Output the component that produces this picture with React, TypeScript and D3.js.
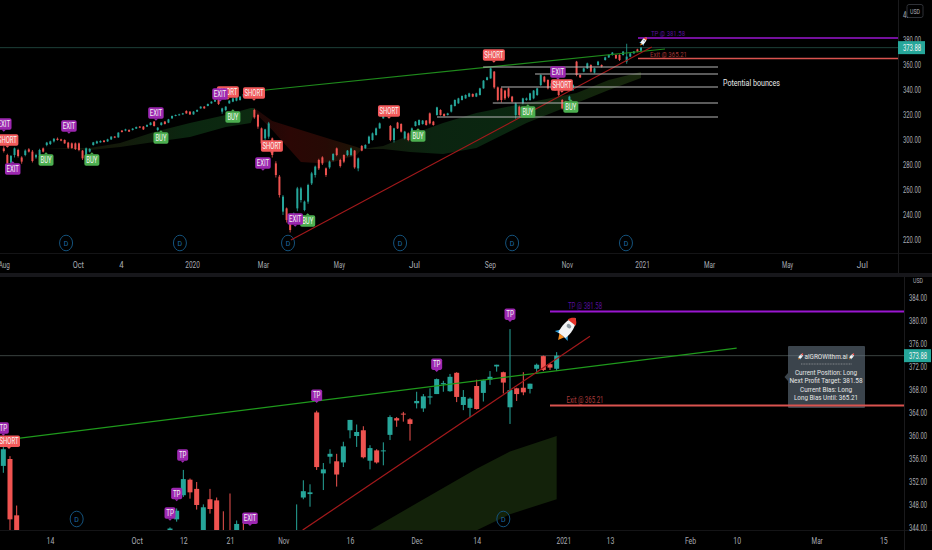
import * as React from "react";
import * as d3 from "d3";

// daily candles of the upper pane, every second session: open, high, low, close
const topCandles = [
  [293.3,295,290,291.2],[288,289,279,281.3],[281.9,288,280,287.2],[288,294,286,293.3],[292,293,286,287.2],[286,287,281,282.7],[288,292.5,287,291.5],[292.5,293.5,290,290.7],[290.7,292,282,283.2],[286.1,289,285,288],
  [288,293,287,292],[293.3,294,290,290.7],[296,298.5,295,297.9],[296.8,299.5,296,298.9],[298.9,301.5,298,301],[301,302,299.5,300],[300.5,301,299,299.5],[300,300.5,297,297.3],[297.9,298.5,293,293.9],[297.3,298,293,293.6],
  [297.3,298,292,292.8],[297.3,298,291,292],[291.5,292,284,285.3],[288,294,287,293.3],[290.7,293.5,290,292.8],[296,298.5,295.5,298.1],[297.3,299.5,297,298.9],[298.1,299.8,297.8,299.2],[299.5,300,298,298.4],[298.9,301,298.5,300.5],
  [300.5,303,300,302.7],[302.7,303.2,301.5,301.9],[302.1,306.2,301.8,305.9],[307.5,308,306,306.4],[307.5,309,307,308.5],[308,308.6,306.4,306.7],[308,309.5,307.6,309.1],[309.1,310.8,308.8,310.4],[310.7,311.2,309.5,309.9],[310.7,311.2,308,308.5],
  [310.7,312.5,310.4,312],[312,314.3,311.7,313.9],[314.7,315.2,310.8,311.2],[308,310.3,307,309.9],[312,314.3,311.5,313.9],[314.7,315.2,312.4,312.8],[313.9,316.9,313.5,316.5],[317.3,319.6,317,319.2],[319.2,320.4,319,320],[320,321,319.7,320.5],
  [320.5,321.7,320.2,321.3],[323.2,323.8,321,321.3],[322.7,323,320,320.5],[320.5,323.1,320.2,322.7],[322.7,324.5,322.4,324],[325.3,327,325,326.7],[326.7,327.2,325,325.3],[327.2,329.2,327,328.8],[329.3,331,329,330.7],[330.7,332.4,330.4,332],
  [332,332.6,328,328.8],[322.7,325.8,321,325.3],[324,327,323,326.7],[329.3,331.8,329,331.5],[330.7,333.7,330.3,333.3],[331.5,334.5,331,334.1],[332,335,331.5,334.7],[334.7,337.2,334.4,336.8],[336.8,339,336.5,338.7],[338.7,339.2,336.5,337],
  [324,325,317,318.1],[320,321,309,310.7],[309.3,310,295,297.3],[301.3,309,300,308.5],[302.7,314.5,301,313.3],[301.3,302,286,288],[281.3,283,270,272],[270.7,272,254,256],[242.7,256,240,254.7],[245.3,246,234,236],
  [236,237,226,228],[240,242,236,241.3],[245.3,262.5,243,261.3],[252,262.5,250,261.3],[244,251.5,243,250.7],[250.7,265,249,264],[265.3,274.5,264,273.3],[272,279.5,270,278.7],[284,285,276,277.3],[286.1,287,280,281.3],
  [277.3,278,270.5,272],[278.1,283.5,277,282.7],[284,289.5,283,288.8],[293.3,294,287,288],[284,285,278,279.2],[288,288.5,281.5,282.7],[288,292,287,291.5],[288,294,287,293.3],[291.5,292,277,278.1],[277.3,286,275,285.3],
  [295.2,296,291,291.5],[293.3,296.6,293,296],[297.3,303.5,296.8,302.7],[300,306,299.5,305.3],[304,310,303.5,309.3],[309.3,314,309,313.3],[317.3,320.5,317,320],[319.2,321.5,318.8,320.8],[311.2,312,299,300],[300,309.8,298,309.3],
  [313.9,314.5,308.8,309.3],[312.8,313.4,306,306.7],[301.3,307.3,300.5,306.7],[305.3,306,299,300],[306.7,310,306.2,309.3],[311.2,315.2,310.8,314.7],[312,316.5,311.5,316],[312.8,316,312.3,315.5],[315.5,316,311.5,312],[321.3,322,312.5,313.3],
  [314.7,315.3,311.5,312],[320,326.6,319.5,326.1],[324,324.6,319.5,320],[320.8,321.4,318.8,319.2],[320,321.8,319.6,321.3],[322.7,328.5,322,328],[327.2,332.5,326.8,332],[329.3,333.8,329,333.3],[332,335.7,331.6,335.2],[333.3,336.5,333,336],
  [334.7,337.8,334.3,337.3],[336.8,337.3,334.3,334.7],[334.7,337.8,334.3,337.3],[336,341.8,335.6,341.3],[341.3,348,341,347.5],[348,350.6,347.6,350.1],[349.3,358,349,357.3],[354.7,355.2,341,342.1],[342.1,342.8,331,332],[341.3,342,330,332],
  [339.5,340.2,332,333.3],[341.3,342,333.5,334.7],[334.7,335.3,330,330.7],[320,330,317,329.3],[326.7,327.5,318.5,320],[329.3,333.8,328.6,333.3],[332,334,331.4,333.3],[332,337.8,331.4,337.3],[333.3,340,332.6,339.5],[336,341.8,335.3,341.3],
  [344,352.6,343.2,352],[350.7,351.3,346,346.7],[348,348.6,340.5,341.3],[341.3,345.9,340.6,345.3],[344,344.6,339.2,340],[346.7,347.4,335,336],[332,332.8,324.5,325.3],[330.7,331.4,324.5,325.3],[332,335.4,331.4,334.7],[340,344.7,339.2,344],
  [362.7,363.3,351,352],[352,352.6,349.6,350.1],[354.7,357.8,354.2,357.3],[357.3,361.9,356.8,361.3],[360,360.6,354,354.7],[353.9,357.8,353.2,357.3],[360,363.3,359.5,362.7],[360,360.5,358,358.7],[364,366.6,363.5,366.1],[366.1,368.5,365.6,368],
  [368,370.4,367.5,369.9],[368,368.5,364.8,365.3],[368,368.6,363.2,364],[368,371.2,367.5,370.7],[362.7,377,361,366.7],[366.7,369.8,366.2,369.3],[369.3,371.2,369,370.7],[372.5,373,370.2,370.7],[371.5,374.5,371,373.9],
];

// bottom pane, zoomed on the last sessions: bar number, open, high, low, close
const bottomCandles = [
  [0,354.7,358.6,353.5,357.6],[1,355.9,356.4,342,345.4],[2,346.1,347.8,338,340],
  [25,340,344,338,343.8],[26,345.4,347.3,345,346.9],[27,349.6,354,349.3,352.4],[28,352.3,352.5,349,350.1],[29,350.7,351.9,347.1,347.9],[30,340,348,338,347.5],[31,348.9,350.7,346.4,347.2],[32,348.7,349.2,340,342],[33,343,346.8,339,341],[34,343,349.9,338,340],[35,341,345.2,340,344.6],[36,343.5,345,340,341],
  [44,340,348,339,343],[45,349.2,352.2,348.9,350.3],[46,349.8,351.5,347.6,350.1],[47,364,364.3,354,354.5],[48,353.4,355.2,350.5,354.1],[49,356.3,357.6,355.1,356.8],[50,355.5,356.8,351.1,353.2],[51,355.3,358.9,354.5,358.1],[52,360.9,362.7,359.5,362.7],[53,359.9,361.9,358,360.6],
  [54,360.9,361.6,356,356.2],[55,355.6,358.3,354.1,357.8],[56,357.4,357.6,355.1,355.3],[57,357.3,358.8,354.8,357.4],[58,360.1,363.5,359.2,363.2],[59,363,363.2,361.5,362.6],[60,363.8,364.1,362.4,363.7],[61,362.8,363,359.1,362],[62,365.6,367.6,364.7,366],[63,364.7,367.2,364.1,366.8],
  [64,366.6,368.2,365.4,366.8],[65,367.2,369.9,367.2,369.8],[66,368.9,369.5,367.6,369.1],[67,367.7,370.7,367.6,370.2],[68,370.9,371,365.8,366.7],[69,365.3,367.9,364.4,366.7],[70,364.8,366.6,363.2,366.4],[71,368.6,369.7,364.5,364.6],[72,367.4,369.7,365.9,369.6],[73,369.7,371.2,368.8,370.2],
  [74,372,372.3,371.1,372.3],[75,371,371.1,367.3,369.2],[76,364.9,378.5,362,367.9],[77,368.2,368.3,366,367.2],[78,368.3,371,367,367.5],[79,368.1,369,367.3,369],[80,371.6,372.5,370.8,372.3],[81,373.8,373.9,371.2,371.4],[82,372.4,372.6,371.4,371.8],[83,371.6,374.5,371.2,373.88],
];

const lastClose = 373.88;
const profitTarget = 381.58;
const exitLevel = 365.21;

const topPriceTicks = [220, 240, 260, 280, 300, 320, 340, 360, 380, 400];
const bottomPriceTicks = [344, 348, 352, 356, 360, 364, 368, 372, 376, 380, 384];

const topTimeBars = [0, 20.7, 32.7, 52.6, 72.4, 93.6, 114.6, 135.8, 157.3, 178.3, 197, 218.8, 239.7];
const topTimeLabels = ["Aug", "Oct", "4", "2020", "Mar", "May", "Jul", "Sep", "Nov", "2021", "Mar", "May", "Jul"];
const bottomTimeBars = [7, 20, 27, 34, 42, 52, 62, 71, 84, 91, 103, 110, 122, 132];
const bottomTimeLabels = ["14", "Oct", "12", "21", "Nov", "16", "Dec", "14", "2021", "13", "Feb", "10", "Mar", "15"];

// signal labels: text, bar, price, pointer direction (1 = points down at the bar)
const topTags: [string, number, number, number][] = [
  ["EXIT", 0, 312.8, 1], ["SHORT", 1, 300, 1], ["EXIT", 2.5, 276.8, -1], ["BUY", 11.8, 284, -1], ["EXIT", 18.2, 311.2, 1],
  ["BUY", 24.6, 284, -1], ["EXIT", 42.5, 321.6, 1], ["BUY", 43.9, 301.6, -1], ["SHORT", 62.6, 338.4, 1], ["EXIT", 60.4, 336.8, 1],
  ["BUY", 64, 318.4, -1], ["SHORT", 69.9, 337.6, 1], ["SHORT", 74.9, 295.2, 1], ["EXIT", 72.4, 281.6, 1], ["BUY", 84.9, 235.2, -1],
  ["EXIT", 81.4, 236.8, 1], ["SHORT", 107.6, 323.2, 1], ["BUY", 115.7, 303.2, -1], ["SHORT", 136.9, 368, 1], ["BUY", 146.4, 322.4, -1],
  ["EXIT", 154.8, 354.4, 1], ["SHORT", 155.9, 344, 1], ["BUY", 158.4, 326.4, -1],
];
const bottomTags: [string, number, number, number][] = [
  ["TP", 0, 361.3, 1], ["SHORT", 0.85, 359, 1], ["TP", 26.9, 356.6, 1], ["TP", 26, 349.9, 1], ["TP", 25, 346.5, 1],
  ["EXIT", 37, 345.6, 1], ["TP", 47, 367, 1], ["TP", 65, 372.4, 1], ["TP", 76, 381.1, 1],
];

// the "D" dividend marks
const topDividendBars = [17.4, 49.2, 79.4, 110.7, 142, 173.8];
const bottomDividendBars = [11, 75];

// trend lines: bar, price
const topGreenLine = [[70.5, 339.2], [184.7, 372.8]];
const topRedLine = [[80.2, 220], [181, 374.4]];
const bottomGreenLine = [[-0.5, 359.08], [110, 375.18]];
const bottomRedLine = [[44.9, 343.53], [88, 377.27]];

// support levels: first bar, price
const bounceBars = [133.9, 148.4, 138.9, 136.6, 121];
const bouncePrices = [358.4, 352.8, 342.4, 329.6, 318.4];

// cloud bands: bar, upper, lower
const topCloudGreenA = [[11.5, 293.6, 293.6], [24, 293.6, 292], [32.5, 297.6, 294.4], [42, 306.4, 298.4], [52, 313.6, 302.4], [62, 320, 310.4], [69, 325.6, 313.6], [70, 325.6, 322.4]];
const topCloudRed = [[70, 325.6, 322.4], [75, 315.2, 308], [83, 308, 282.4], [87.5, 304, 281.6], [92, 300, 282.4], [98.6, 294.4, 288], [100, 292.8, 292.8]];
const topCloudGreenB = [[100, 292.8, 292.8], [106, 295.2, 292.8], [113.5, 304, 290.4], [122.7, 313.6, 288.8], [132, 321.6, 293.6], [146, 329.6, 313.6], [160, 337.6, 329.6], [169, 348, 340], [178, 354.4, 349.6]];
const bottomCloud = [[55, 343.5, 333], [62, 348.2, 338], [71, 354.2, 343.5], [76, 357.2, 346.3], [83, 359.9, 348.9]];

const tooltipLines = ["Current Position: Long", "Next Profit Target: 381.58", "Current Bias: Long", "Long Bias Until: 365.21"];
const tooltipWidths = [62, 73, 52, 64];

const WIDTH = 932;
const HEIGHT = 550;
const font = "Roboto, 'Liberation Sans', sans-serif";
const UP = "#26a69a";
const DOWN = "#ef5350";
const TAG_COLORS = { SHORT: "#f2595a", EXIT: "#9c27b0", BUY: "#4caf50", TP: "#9c27b0" };
const TAG_WIDTHS = { SHORT: 22, EXIT: 15.5, BUY: 15, TP: 11 };
const TAG_TEXT_WIDTHS = { SHORT: 19, EXIT: 12.5, BUY: 11, TP: 7.5 };

const fit = (sel, w) => sel.attr("textLength", w).attr("lengthAdjust", "spacingAndGlyphs");

const drawCandles = (g, rows, x, y, bodyWidth, wickWidth) => {
  const sel = g.append("g").selectAll("g").data(rows).enter().append("g")
    .attr("fill", (d) => d.c >= d.o ? UP : DOWN)
    .attr("stroke", (d) => d.c >= d.o ? UP : DOWN);
  sel.append("line")
    .attr("x1", (d) => x(d.i)).attr("x2", (d) => x(d.i))
    .attr("y1", (d) => y(d.h)).attr("y2", (d) => y(d.l))
    .attr("stroke-width", wickWidth);
  sel.append("rect")
    .attr("x", (d) => x(d.i) - bodyWidth / 2)
    .attr("width", bodyWidth)
    .attr("y", (d) => y(Math.max(d.o, d.c)))
    .attr("height", (d) => Math.max(1, Math.abs(y(d.o) - y(d.c))))
    .attr("stroke", "none");
};

const drawCloud = (g, rows, x, y, fill) => {
  const area = d3.area()
    .x((d: any) => x(d[0]))
    .y0((d: any) => y(d[2]))
    .y1((d: any) => y(d[1]));
  g.append("path").datum(rows).attr("fill", fill).attr("d", area);
};

const addFade = (defs, id, stops) => {
  const grad = defs.append("linearGradient").attr("id", id);
  stops.forEach((s, i) => grad.append("stop").attr("offset", i / (stops.length - 1)).attr("stop-color", s));
};

const drawTrend = (g, pts, x, y, color, width) => {
  const line = d3.line().x((d: any) => x(d[0])).y((d: any) => y(d[1]));
  g.append("path").datum(pts).attr("fill", "none").attr("stroke", color).attr("stroke-width", width).attr("d", line);
};

const drawTags = (g, rows, x, y) => {
  rows.forEach(([label, bar, price, dir]) => {
    const cx = x(bar), cy = y(price), w = TAG_WIDTHS[label], h = 11.5;
    const tag = g.append("g").attr("transform", "translate(" + cx + "," + cy + ")");
    tag.append("rect").attr("x", -w / 2).attr("y", -h / 2).attr("width", w).attr("height", h).attr("rx", 1.8).attr("fill", TAG_COLORS[label]);
    tag.append("path").attr("d", "M-2," + dir * (h / 2) + "L2," + dir * (h / 2) + "L0," + dir * (h / 2 + 2) + "Z").attr("fill", TAG_COLORS[label]);
    const t = tag.append("text").attr("text-anchor", "middle").attr("y", 3.1).attr("font-size", 8.5).attr("fill", "#f4f4f4")
      .attr("font-family", font).text(label);
    fit(t, TAG_TEXT_WIDTHS[label]);
  });
};

const drawDividends = (g, bars, x, cy) => {
  bars.forEach((bar) => {
    g.append("ellipse").attr("cx", x(bar)).attr("cy", cy).attr("rx", 6.5).attr("ry", 7.8).attr("fill", "none").attr("stroke", "#14527c").attr("stroke-width", 1);
    g.append("text").attr("x", x(bar)).attr("y", cy + 2.6).attr("text-anchor", "middle").attr("font-size", 7).attr("fill", "#1e6ea6").attr("font-family", font).text("D");
  });
};

const drawRocket = (g, cx, cy, scale) => {
  const r = g.append("g").attr("transform", "translate(" + cx + "," + cy + ") rotate(38) scale(" + scale * 1.25 + "," + scale + ")");
  r.append("path").attr("d", "M-3.5,6 L-6.5,11 L-2,10 Z").attr("fill", "#2f9fd8");
  r.append("path").attr("d", "M3.5,6 L6.5,11 L2,10 Z").attr("fill", "#2f9fd8");
  r.append("path").attr("d", "M-2.5,10 L2.5,10 L0,16 Z").attr("fill", "#f58a1f");
  r.append("path").attr("d", "M0,-12 C5,-7 5,4 3.5,10 L-3.5,10 C-5,4 -5,-7 0,-12 Z").attr("fill", "#f2f4f6");
  r.append("path").attr("d", "M0,-12 C2.5,-10 3.6,-8 4,-6 L-4,-6 C-3.6,-8 -2.5,-10 0,-12 Z").attr("fill", "#e5332a");
  r.append("circle").attr("cy", -1.5).attr("r", 2).attr("fill", "#8d9aa3");
};

const styleAxis = (sel, size) => {
  sel.select(".domain").remove();
  sel.selectAll("text").attr("fill", "#a9acb3").attr("font-size", size).attr("font-family", font)
    .attr("lengthAdjust", "spacingAndGlyphs")
    .attr("textLength", function () { return d3.select(this).text().replace(".", "").length * 3.4 + 1; });
};

export default function App() {
  const node = React.useRef(null);

  React.useEffect(() => {
    const svg = d3.select(node.current);
    svg.selectAll("*").remove();

    const toRow = (r, i) => ({ i, o: r[0], h: r[1], l: r[2], c: r[3] });
    const topRows = topCandles.map(toRow);
    const bottomRows = bottomCandles.map((r) => ({ i: r[0], o: r[1], h: r[2], l: r[3], c: r[4] }));

    const topX = d3.scaleLinear().domain([0, 178]).range([3.78, 641]);
    const topY = d3.scaleLinear().domain([220, 380]).range([240, 40]);
    const botX = d3.scaleLinear().domain([0, 83]).range([3.33, 556.67]);
    const botY = d3.scaleLinear().domain([344, 384]).range([527.4, 297.5]);

    const defs = svg.append("defs");
    defs.append("clipPath").attr("id", "top-clip").append("rect").attr("width", 898).attr("height", 253);
    defs.append("clipPath").attr("id", "bot-clip").append("rect").attr("y", 278).attr("width", 904).attr("height", 252);
    addFade(defs, "fade-a", ["#0d1005", "#14190a", "#0b2610", "#0c2a10"]);
    addFade(defs, "fade-red", ["#1c0806", "#2b0705", "#260a05", "#1c1606"]);
    addFade(defs, "fade-b", ["#14180a", "#0b2410", "#0a2610", "#10240c", "#18260c"]);

    // pane frames
    svg.append("rect").attr("width", WIDTH).attr("height", HEIGHT).attr("fill", "#000");
    svg.append("rect").attr("y", 273).attr("width", WIDTH).attr("height", 4).attr("fill", "#17171b");
    svg.append("line").attr("x1", 0).attr("x2", WIDTH).attr("y1", 253.5).attr("y2", 253.5).attr("stroke", "#141416");
    svg.append("line").attr("x1", 0).attr("x2", WIDTH).attr("y1", 530.5).attr("y2", 530.5).attr("stroke", "#141416");
    svg.append("line").attr("x1", 898.5).attr("x2", 898.5).attr("y1", 0).attr("y2", 273).attr("stroke", "#1a1a1c");
    svg.append("line").attr("x1", 904.5).attr("x2", 904.5).attr("y1", 277).attr("y2", HEIGHT).attr("stroke", "#1a1a1c");

    // upper pane
    const top = svg.append("g").attr("clip-path", "url(#top-clip)");
    drawCloud(top, topCloudGreenA, topX, topY, "url(#fade-a)");
    drawCloud(top, topCloudRed, topX, topY, "url(#fade-red)");
    drawCloud(top, topCloudGreenB, topX, topY, "url(#fade-b)");
    top.append("line").attr("x1", 0).attr("x2", 898).attr("y1", topY(lastClose)).attr("y2", topY(lastClose)).attr("stroke", "#1d3f38");
    drawDividends(top, topDividendBars, topX, 243);
    drawCandles(top, topRows, topX, topY, 2, 0.8);
    drawTrend(top, topGreenLine, topX, topY, "#1f8a1c", 1.2);
    drawTrend(top, topRedLine, topX, topY, "#a3191b", 1.1);
    bouncePrices.forEach((p, i) => {
      top.append("line").attr("x1", topX(bounceBars[i])).attr("x2", 718).attr("y1", topY(p)).attr("y2", topY(p)).attr("stroke", "#b5b5b5").attr("stroke-width", 1.2);
    });
    fit(top.append("text").attr("x", 723).attr("y", 86).attr("font-size", 9.5).attr("fill", "#eaeaea").attr("font-family", font).text("Potential bounces"), 57);
    top.append("line").attr("x1", 638).attr("x2", 898).attr("y1", topY(profitTarget)).attr("y2", topY(profitTarget)).attr("stroke", "#9a16d0").attr("stroke-width", 1.6);
    top.append("line").attr("x1", 638).attr("x2", 898).attr("y1", topY(exitLevel)).attr("y2", topY(exitLevel)).attr("stroke", "#d9534f").attr("stroke-width", 1.6);
    fit(top.append("text").attr("x", 651).attr("y", 36).attr("font-size", 8).attr("fill", "#560e9c").attr("font-family", font).text("TP @ 381.58"), 34);
    fit(top.append("text").attr("x", 650).attr("y", 57).attr("font-size", 8).attr("fill", "#a23535").attr("font-family", font).text("Exit @ 365.21"), 37);
    drawTags(top, topTags, topX, topY);
    drawRocket(top, topX(178.8), topY(379.2), 0.36);

    const topTime = svg.append("g").attr("transform", "translate(0,259)")
      .call(d3.axisBottom(topX).tickValues(topTimeBars).tickSize(0).tickFormat((d, i) => topTimeLabels[i]));
    styleAxis(topTime, 8.5);
    const topPrice = svg.append("g").attr("transform", "translate(903,0)")
      .call(d3.axisRight(topY).tickValues(topPriceTicks).tickSize(0).tickPadding(0).tickFormat(d3.format(".2f")));
    styleAxis(topPrice, 8.5);

    // lower pane
    const bot = svg.append("g").attr("clip-path", "url(#bot-clip)");
    drawCloud(bot, bottomCloud, botX, botY, "#13220a");
    bot.append("line").attr("x1", 0).attr("x2", 904).attr("y1", botY(lastClose)).attr("y2", botY(lastClose)).attr("stroke", "#39423f");
    drawDividends(bot, bottomDividendBars, botX, 519);
    drawCandles(bot, bottomRows, botX, botY, 5, 1);
    drawTrend(bot, bottomGreenLine, botX, botY, "#1f9a1c", 1.2);
    drawTrend(bot, bottomRedLine, botX, botY, "#a3191b", 1.2);
    drawTags(bot, bottomTags, botX, botY);
    bot.append("line").attr("x1", 550).attr("x2", 904).attr("y1", botY(profitTarget)).attr("y2", botY(profitTarget)).attr("stroke", "#9a16d0").attr("stroke-width", 2);
    fit(bot.append("text").attr("x", 585).attr("y", 309).attr("text-anchor", "middle").attr("font-size", 8.5).attr("fill", "#560e9c").attr("font-family", font).text("TP @ 381.58"), 34);
    fit(bot.append("text").attr("x", 585).attr("y", 403).attr("text-anchor", "middle").attr("font-size", 8.5).attr("fill", "#a83a3a").attr("font-family", font).text("Exit @ 365.21"), 37);
    drawRocket(bot, botX(84.7), botY(378.8), 1);

    // info box
    const box = bot.append("g");
    box.append("path").attr("d", "M788,373 L784.5,377 L788,381 Z").attr("fill", "#3b444c");
    box.append("rect").attr("x", 788).attr("y", 346).attr("width", 77).attr("height", 62).attr("rx", 1).attr("fill", "#3b444c");
    box.append("line").attr("x1", 788).attr("x2", 865).attr("y1", botY(lastClose)).attr("y2", botY(lastClose)).attr("stroke", "#556066");
    fit(box.append("text").attr("x", 826).attr("y", 358.5).attr("text-anchor", "middle").attr("font-size", 8).attr("fill", "#e6e6e6").attr("font-family", font).text("alGROWithm.ai"), 43);
    drawRocket(box, 801, 356, 0.27);
    drawRocket(box, 852, 356, 0.27);
    box.append("line").attr("x1", 801).attr("x2", 852).attr("y1", 364).attr("y2", 364).attr("stroke", "#c8c8c8").attr("stroke-width", 0.5).attr("stroke-dasharray", "1 0.6");
    tooltipLines.forEach((t, i) => {
      fit(box.append("text").attr("x", 826).attr("y", 375 + i * 8.3).attr("text-anchor", "middle").attr("font-size", 8).attr("fill", "#e6e6e6").attr("font-family", font).text(t), tooltipWidths[i]);
    });
    bot.append("line").attr("x1", 550).attr("x2", 904).attr("y1", botY(exitLevel)).attr("y2", botY(exitLevel)).attr("stroke", "#d9534f").attr("stroke-width", 2);

    const botTime = svg.append("g").attr("transform", "translate(0,535)")
      .call(d3.axisBottom(botX).tickValues(bottomTimeBars).tickSize(0).tickFormat((d, i) => bottomTimeLabels[i]));
    styleAxis(botTime, 8.5);
    const botPrice = svg.append("g").attr("transform", "translate(909,0)")
      .call(d3.axisRight(botY).tickValues(bottomPriceTicks).tickSize(0).tickPadding(0).tickFormat(d3.format(".2f")));
    styleAxis(botPrice, 8.5);

    // USD boxes and last price flags
    svg.append("rect").attr("x", 907).attr("y", 4.5).attr("width", 16).attr("height", 13).attr("rx", 2).attr("fill", "#000").attr("stroke", "#2e3036");
    fit(svg.append("text").attr("x", 915).attr("y", 13.5).attr("text-anchor", "middle").attr("font-size", 8).attr("fill", "#a9acb3").attr("font-family", font).text("USD"), 10);
    fit(svg.append("text").attr("x", 918).attr("y", 283).attr("text-anchor", "middle").attr("font-size", 8).attr("fill", "#a9acb3").attr("font-family", font).text("USD"), 10);

    svg.append("rect").attr("x", 898).attr("y", topY(lastClose) - 6.5).attr("width", 27).attr("height", 13).attr("fill", "#26a69a");
    fit(svg.append("text").attr("x", 912).attr("y", topY(lastClose) + 3).attr("text-anchor", "middle").attr("font-size", 8.5).attr("fill", "#f2f2f2").attr("font-family", font).text(lastClose.toFixed(2)), 18);
    svg.append("rect").attr("x", 904).attr("y", botY(lastClose) - 6.5).attr("width", 27).attr("height", 13).attr("fill", "#26a69a");
    fit(svg.append("text").attr("x", 918).attr("y", botY(lastClose) + 3).attr("text-anchor", "middle").attr("font-size", 8.5).attr("fill", "#f2f2f2").attr("font-family", font).text(lastClose.toFixed(2)), 18);
  }, []);

  return (
    <div>
      <style>{"body{margin:0;background:#000}"}</style>
      <svg ref={node} width={WIDTH} height={HEIGHT} style={{ display: "block" }}></svg>
    </div>
  );
}
